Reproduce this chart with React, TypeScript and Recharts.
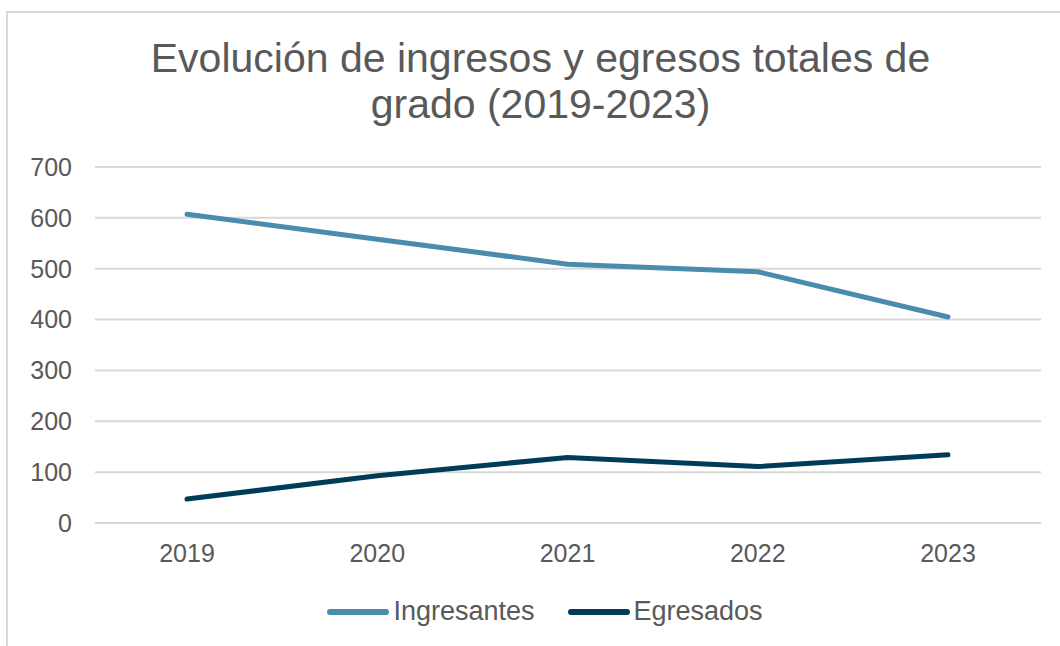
import React from 'react';
import { LineChart, Line, XAxis, YAxis, CartesianGrid, Legend } from 'recharts';

const years = ['2019', '2020', '2021', '2022', '2023'];
const ingresantes = [607, 558, 509, 494, 405];
const egresados = [47, 93, 129, 111, 134];
const yTicks = [0, 100, 200, 300, 400, 500, 600, 700];

const FONT = '"Liberation Sans", Arial, sans-serif';
const TEXT = '#595959';
const GRID = '#d9d9d9';
const C_ING = '#4a8cab';
const C_EGR = '#003b58';

const data = years.map((year, i) => ({
    year,
    Ingresantes: ingresantes[i],
    Egresados: egresados[i],
}));

const LegendContent = () => (
    <div style={{ display: 'flex', justifyContent: 'center', alignItems: 'center', fontFamily: FONT, fontSize: 27, color: TEXT, paddingLeft: 30 }}>
        {[{ name: 'Ingresantes', color: C_ING }, { name: 'Egresados', color: C_EGR }].map((item, i) => (
            <div key={item.name} style={{ display: 'flex', alignItems: 'center', marginLeft: i === 0 ? 0 : 33 }}>
                <span style={{ display: 'inline-block', width: 62, height: 6, borderRadius: 3, background: item.color, marginRight: 4 }} />
                <span>{item.name}</span>
            </div>
        ))}
    </div>
);

export default function App() {
    return (
        <div style={{ position: 'relative', width: 1060, height: 646, overflow: 'hidden', background: '#fff' }}>
            <style>{'body{margin:0;}'}</style>
            <div style={{ position: 'absolute', left: 6, top: 11, width: 1100, height: 700, border: `2px solid ${GRID}` }} />
            <div
                style={{
                    position: 'absolute', top: 36, left: 0, width: 1081, textAlign: 'center',
                    fontFamily: FONT, fontSize: 41, lineHeight: '45.5px', color: TEXT,
                }}
            >
                Evolución de ingresos y egresos totales de
                <br />
                grado (2019-2023)
            </div>
            <div style={{ position: 'absolute', left: 0, top: 0 }}>
                <LineChart width={1060} height={646} data={data} margin={{ top: 167, right: 19, left: 0, bottom: 63 }}>
                    <CartesianGrid vertical={false} stroke={GRID} strokeWidth={2} />
                    <XAxis
                        dataKey="year"
                        height={60}
                        padding={{ left: 92, right: 93 }}
                        axisLine={false}
                        tickLine={false}
                        tickMargin={15}
                        tick={{ fill: TEXT, fontSize: 25, fontFamily: FONT }}
                    />
                    <YAxis
                        width={95}
                        domain={[0, 700]}
                        ticks={yTicks}
                        interval={0}
                        axisLine={false}
                        tickLine={false}
                        tickMargin={17}
                        tick={{ fill: TEXT, fontSize: 25, fontFamily: FONT }}
                    />
                    <Legend
                        layout="horizontal"
                        verticalAlign="middle"
                        align="center"
                        wrapperStyle={{ top: 596, left: 0, width: 1060 }}
                        content={<LegendContent />}
                    />
                    <Line type="linear" dataKey="Ingresantes" stroke={C_ING} strokeWidth={5} strokeLinecap="round" dot={false} isAnimationActive={false} />
                    <Line type="linear" dataKey="Egresados" stroke={C_EGR} strokeWidth={5} strokeLinecap="round" dot={false} isAnimationActive={false} />
                </LineChart>
            </div>
        </div>
    );
}
